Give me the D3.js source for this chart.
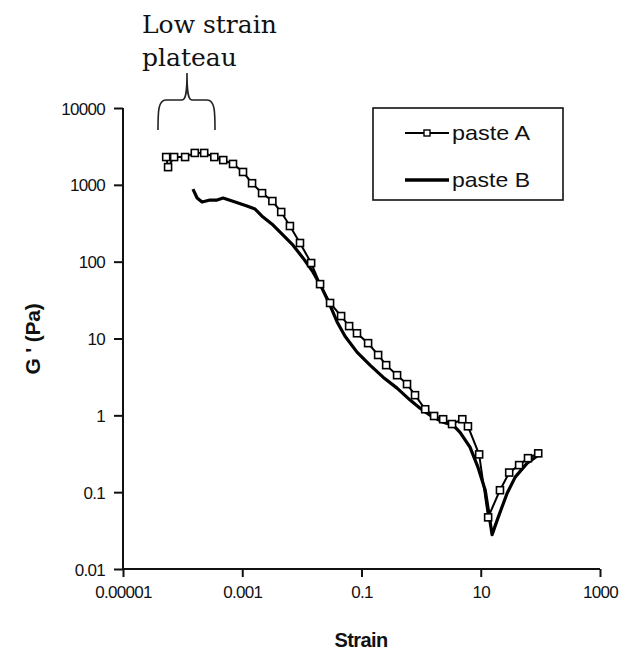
<!DOCTYPE html>
<html>
<head>
<meta charset="utf-8">
<script src="https://cdn.jsdelivr.net/npm/d3@7"></script>
<style>
  html, body { margin: 0; padding: 0; background: #fff; }
  text { font-family: "Liberation Sans", Arial, sans-serif; fill: #111; }
</style>
</head>
<body>
<svg id="chart" width="626" height="656"></svg>
<script>
// paste A (squares) - strain / G'
const strainA = [5.3e-5, 5.7e-5, 7.2e-5, 1.1e-4, 1.6e-4, 2.3e-4, 3.4e-4, 4.8e-4, 7.0e-4, 1.03e-3,
  1.46e-3, 2.15e-3, 3.2e-3, 4.5e-3, 6.3e-3, 9.3e-3, 0.0143, 0.0202, 0.0297, 0.0455,
  0.062, 0.084, 0.129, 0.19, 0.259, 0.395, 0.58, 0.79, 1.17, 1.65,
  2.34, 3.3, 4.9, 6.1, 9.4, 13.3, 21, 30, 44, 62, 92];
const gA = [2300, 1700, 2300, 2300, 2600, 2600, 2300, 2100, 1870, 1470,
  1050, 780, 615, 443, 291, 175, 96, 51, 29, 19.6,
  14.5, 11.7, 8.7, 6.1, 4.5, 3.33, 2.55, 1.83, 1.2, 0.98,
  0.89, 0.77, 0.89, 0.72, 0.31, 0.047, 0.106, 0.18, 0.225, 0.277, 0.32];

// paste B (plain line)
const strainB = [1.49e-4, 1.75e-4, 2.12e-4, 2.88e-4, 3.78e-4, 4.77e-4, 7.6e-4, 1.2e-3, 1.64e-3, 2.23e-3,
  3.29e-3, 4.84e-3, 7.1e-3, 0.0105, 0.0154, 0.0218, 0.0297, 0.039, 0.053, 0.084,
  0.139, 0.23, 0.395, 0.653, 0.96, 1.26, 1.59, 2.34, 3.44, 4.5,
  6.6, 9.0, 11.9, 15.5, 19.6, 27.7, 37.8, 60, 92];
const gB = [880, 673, 597, 634, 634, 673, 597, 530, 484, 381,
  300, 222, 164, 111, 73, 45, 27, 16.4, 10.7, 6.65,
  4.5, 3.14, 2.26, 1.58, 1.24, 1.07, 0.95, 0.815, 0.745, 0.60,
  0.385, 0.21, 0.106, 0.028, 0.047, 0.097, 0.157, 0.239, 0.303];

const xTicks = [0.00001, 0.001, 0.1, 10, 1000];
const xTickLabels = ["0.00001", "0.001", "0.1", "10", "1000"];
const yTicks = [0.01, 0.1, 1, 10, 100, 1000, 10000];
const yTickLabels = ["0.01", "0.1", "1", "10", "100", "1000", "10000"];
const seriesNames = ["paste A", "paste B"];

const svg = d3.select("#chart");

const x = d3.scaleLog().domain([1e-5, 1000]).range([123, 600]);
const y = d3.scaleLog().domain([0.01, 10000]).range([569, 108]);

const dataA = strainA.map((s, i) => ({ s, g: gA[i] }));
const dataB = strainB.map((s, i) => ({ s, g: gB[i] }));

const line = d3.line().x(d => x(d.s)).y(d => y(d.g));

// axes
const yAxis = svg.append("g")
  .attr("transform", "translate(123,0)")
  .call(d3.axisLeft(y).tickValues(yTicks).tickFormat((d, i) => yTickLabels[i]).tickSize(9).tickPadding(9));
const xAxis = svg.append("g")
  .attr("transform", "translate(0,569)")
  .call(d3.axisBottom(x).tickValues(xTicks).tickFormat((d, i) => xTickLabels[i]).tickSize(8).tickPadding(9));

[xAxis, yAxis].forEach(ax => {
  ax.select(".domain").attr("stroke", "#111").attr("stroke-width", 2);
  ax.selectAll(".tick line").attr("stroke", "#111").attr("stroke-width", 2);
  ax.selectAll(".tick text")
    .attr("fill", "#1a1a2a")
    .style("font-family", "'Liberation Sans', Arial, sans-serif")
    .style("font-size", "17px")
    .style("letter-spacing", "-0.7px");
});
yAxis.selectAll(".tick text").attr("dy", "0.36em");
yAxis.select(".domain").attr("d", "M0,108V569");
xAxis.select(".domain").attr("d", "M123,0H600");

// axis titles
svg.append("text")
  .attr("x", 361).attr("y", 647)
  .attr("text-anchor", "middle")
  .style("font-size", "20px").style("font-weight", "bold").style("letter-spacing", "-0.6px")
  .text("Strain");
svg.append("text")
  .attr("transform", "translate(40,339) rotate(-90)")
  .attr("text-anchor", "middle")
  .style("font-size", "21px").style("font-weight", "bold").style("letter-spacing", "-0.2px")
  .attr("fill", "#2e2210")
  .text("G ' (Pa)");

// series
svg.append("path").datum(dataB)
  .attr("fill", "none").attr("stroke", "#000").attr("stroke-width", 3.2)
  .attr("stroke-linejoin", "round").attr("d", line);

svg.append("path").datum(dataA)
  .attr("fill", "none").attr("stroke", "#000").attr("stroke-width", 2)
  .attr("d", line);
svg.append("g").selectAll("rect").data(dataA).join("rect")
  .attr("x", d => x(d.s) - 3.5).attr("y", d => y(d.g) - 3.5)
  .attr("width", 7).attr("height", 7)
  .attr("fill", "#fff").attr("stroke", "#000").attr("stroke-width", 1.6);

// legend
const lg = svg.append("g");
lg.append("rect").attr("x", 373).attr("y", 108).attr("width", 190).attr("height", 92)
  .attr("fill", "#fff").attr("stroke", "#111").attr("stroke-width", 1.6);
seriesNames.forEach((name, i) => {
  const ly = 133 + i * 47;
  lg.append("line").attr("x1", 405).attr("x2", 449).attr("y1", ly).attr("y2", ly)
    .attr("stroke", "#000").attr("stroke-width", i === 0 ? 2.2 : 3.4);
  if (i === 0) {
    lg.append("rect").attr("x", 424).attr("y", ly - 3).attr("width", 6).attr("height", 6)
      .attr("fill", "#fff").attr("stroke", "#000").attr("stroke-width", 1.4);
  }
  lg.append("text").attr("x", 452).attr("y", ly + 7)
    .style("font-size", "21px")
    .attr("textLength", 78).attr("lengthAdjust", "spacingAndGlyphs")
    .attr("fill", "#2a1a3a")
    .text(name);
});

// annotation
const ann = svg.append("g");
ann.append("text").attr("x", 142).attr("y", 33)
  .style("font-family", "'DejaVu Serif', serif").style("font-size", "25px")
  .text("Low strain");
ann.append("text").attr("x", 142).attr("y", 66)
  .style("font-family", "'DejaVu Serif', serif").style("font-size", "25px")
  .text("plateau");
ann.append("path")
  .attr("d", "M158,130 C158,112 158,100 166,100 L182,100 C186,100 187,92 187,73 C187,92 188,100 192,100 L207,100 C215,100 215,112 215,130")
  .attr("fill", "none").attr("stroke", "#222").attr("stroke-width", 1.6);
</script>
</body>
</html>
